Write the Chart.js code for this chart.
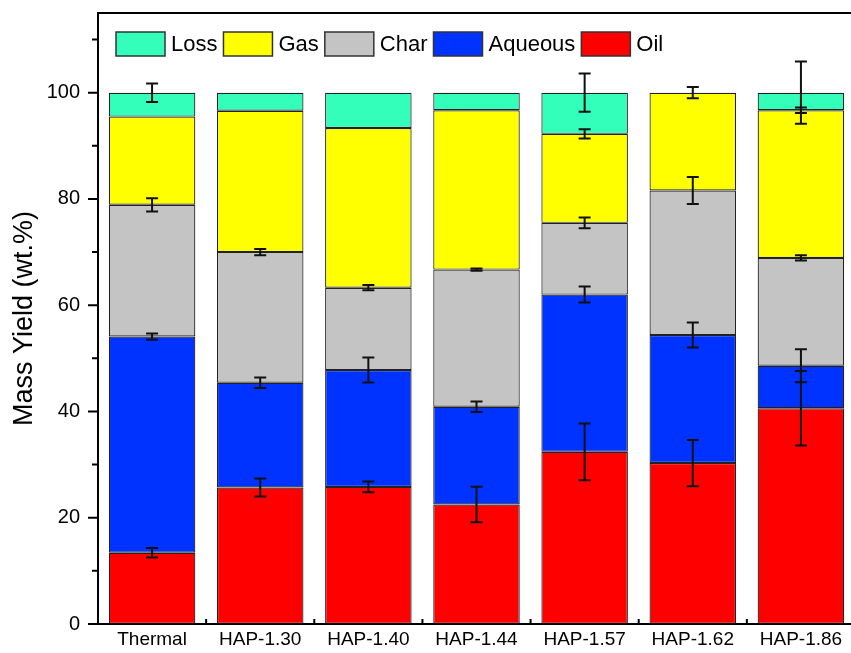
<!DOCTYPE html>
<html>
<head>
<meta charset="utf-8">
<script src="https://cdn.jsdelivr.net/npm/chart.js@4/dist/chart.umd.min.js"></script>
<style>
  html, body { margin: 0; padding: 0; background: #fff; overflow: hidden; }
  #wrap { width: 858px; height: 653px; }
</style>
</head>
<body>
<div id="wrap"><canvas id="chart" width="858" height="653"></canvas></div>
<script>
// ── Datos (wt.%) ─────────────────────────────────────────────────────
const categorias = ["Thermal", "HAP-1.30", "HAP-1.40", "HAP-1.44", "HAP-1.57", "HAP-1.62", "HAP-1.86"];
const oil     = [13.4, 25.7, 25.8, 22.5, 32.4, 30.3, 40.6];
const aqueous = [40.7, 19.7, 22.0, 18.4, 29.6, 24.1, 8.0];
const char    = [24.8, 24.6, 15.5, 25.8, 13.5, 27.2, 20.3];
const gas     = [16.6, 26.6, 30.05, 30.0, 16.75, 18.4, 27.8];
const loss    = [4.5, 3.4, 6.65, 3.3, 7.75, 0, 3.3];

// barras de error (± en la parte alta de cada segmento)
const oilErr     = [0.9, 1.7, 1.0, 3.35, 5.35, 4.35, 7.0];
const aqueousErr = [0.6, 1.0, 2.35, 1.0, 1.5, 2.35, 3.1];
const charErr    = [1.25, 0.6, 0.5, 0.2, 1.0, 2.55, 0.5];
const gasErr     = [0, 0, 0, 0, 0.85, 1.05, 0.5];
const lossErr    = [1.75, 0, 0, 0, 3.6, 0, 5.85];

const yTicksMayores = [0, 20, 40, 60, 80, 100];
const yTicksMenores = [10, 30, 50, 70, 90, 110];

// ── Paleta ────────────────────────────────────────────────────────────
const C_OIL   = "#FF0000";
const C_AQ    = "#0033FF";
const C_CHAR  = "#C4C4C4";
const C_GAS   = "#FFFF00";
const C_LOSS  = "#33FFBB";
const FUENTE  = "'Liberation Sans', Arial, sans-serif";

function serie(label, data, color, err) {
  return { label, data, backgroundColor: color, borderColor: "#222", borderWidth: 1.2,
           borderSkipped: false, err, categoryPercentage: 0.8, barPercentage: 1 };
}

// ── Plugin: barras de error ───────────────────────────────────────────
const errorBars = {
  id: "errorBars",
  afterDatasetsDraw(chart) {
    const { ctx, scales: { y } } = chart;
    ctx.save();
    ctx.strokeStyle = "#111";
    ctx.lineWidth = 2;
    chart.data.datasets.forEach((ds, i) => {
      const meta = chart.getDatasetMeta(i);
      ds.data.forEach((v, j) => {
        const e = ds.err[j];
        if (!e) return;
        let top = 0;
        for (let k = 0; k <= i; k++) top += chart.data.datasets[k].data[j];
        const x = meta.data[j].x;
        const y1 = y.getPixelForValue(top + e), y2 = y.getPixelForValue(top - e);
        ctx.beginPath();
        ctx.moveTo(x, y1); ctx.lineTo(x, y2);
        ctx.moveTo(x - 6, y1); ctx.lineTo(x + 6, y1);
        ctx.moveTo(x - 6, y2); ctx.lineTo(x + 6, y2);
        ctx.stroke();
      });
    });
    ctx.restore();
  },
};

// ── Plugin: marco, ticks y leyenda interna ────────────────────────────
const marco = {
  id: "marco",
  afterDraw(chart) {
    const { ctx, chartArea: a, scales: { x, y } } = chart;
    ctx.save();
    ctx.strokeStyle = "#000";
    ctx.lineWidth = 2;
    ctx.beginPath();
    ctx.moveTo(a.left - 1, a.top); ctx.lineTo(a.right, a.top);
    ctx.moveTo(a.left, a.top); ctx.lineTo(a.left, a.bottom);
    ctx.moveTo(a.left - 1, a.bottom); ctx.lineTo(a.right, a.bottom);
    ctx.moveTo(a.right, a.top); ctx.lineTo(a.right, a.bottom);
    yTicksMayores.forEach(v => { const p = y.getPixelForValue(v); ctx.moveTo(a.left - 10, p); ctx.lineTo(a.left, p); });
    yTicksMenores.forEach(v => { const p = y.getPixelForValue(v); ctx.moveTo(a.left - 6, p); ctx.lineTo(a.left, p); });
    for (let i = 1; i < categorias.length; i++) {
      const p = x.getPixelForValue(i - 0.5);
      ctx.moveTo(p, a.bottom); ctx.lineTo(p, a.bottom - 5);
    }
    ctx.stroke();

    // leyenda
    ctx.font = `22px ${FUENTE}`;
    ctx.textBaseline = "middle";
    ctx.textAlign = "left";
    let px = a.left + 18;
    const py = a.top + 19;
    const items = chart.data.datasets.slice().reverse();
    items.forEach(ds => {
      ctx.fillStyle = ds.backgroundColor;
      ctx.fillRect(px, py, 49, 24);
      ctx.lineWidth = 1.5;
      ctx.strokeStyle = "#333";
      ctx.strokeRect(px, py, 49, 24);
      ctx.fillStyle = "#000";
      ctx.fillText(ds.label, px + 55, py + 13);
      px += 55 + ctx.measureText(ds.label).width + 6;
    });
    ctx.restore();
  },
};

new Chart(document.getElementById("chart"), {
  type: "bar",
  data: {
    labels: categorias,
    datasets: [
      serie("Oil", oil, C_OIL, oilErr),
      serie("Aqueous", aqueous, C_AQ, aqueousErr),
      serie("Char", char, C_CHAR, charErr),
      serie("Gas", gas, C_GAS, gasErr),
      serie("Loss", loss, C_LOSS, lossErr),
    ],
  },
  options: {
    responsive: false,
    animation: false,
    layout: { padding: { left: 8, right: 3, top: 13, bottom: 2 } },
    plugins: { legend: { display: false }, tooltip: { enabled: false } },
    scales: {
      x: {
        stacked: true,
        grid: { display: false, drawTicks: false },
        border: { display: false },
        ticks: { color: "#000", font: { family: FUENTE, size: 19 }, padding: 4, maxRotation: 0 },
        afterFit: s => { s.height = 27; s.paddingLeft = 0; s.paddingRight = 0; },
      },
      y: {
        stacked: true,
        min: 0, max: 115,
        grid: { display: false, drawTicks: false },
        border: { display: false },
        afterBuildTicks: s => { s.ticks = yTicksMayores.map(v => ({ value: v })); },
        ticks: { color: "#000", font: { family: FUENTE, size: 20 }, padding: 18 },
        title: { display: true, text: "Mass Yield (wt.%)", color: "#000",
                 font: { family: FUENTE, size: 27 }, padding: 0 },
        afterFit: s => { s.width = 90; s.paddingTop = 0; s.paddingBottom = 0; },
      },
    },
  },
  plugins: [errorBars, marco],
});
</script>
</body>
</html>
